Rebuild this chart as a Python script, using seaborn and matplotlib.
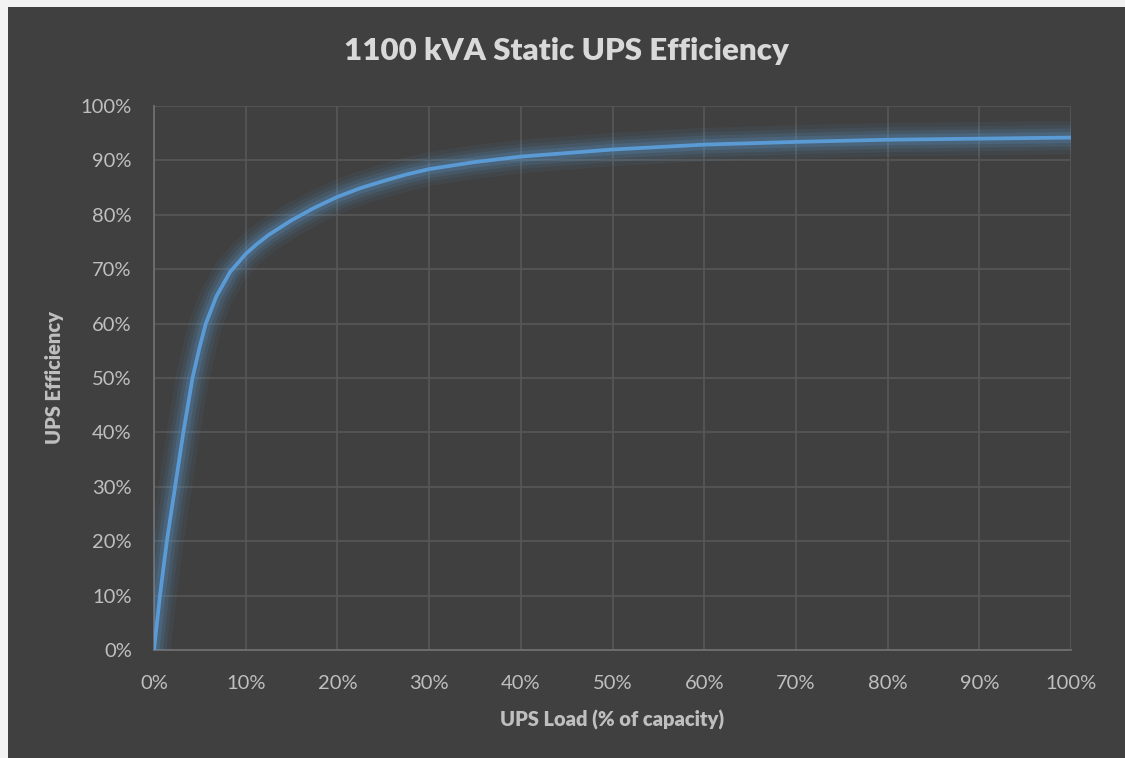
import matplotlib
matplotlib.use("Agg")
import matplotlib.pyplot as plt
import matplotlib.patheffects as pe
from matplotlib.patches import Rectangle
from matplotlib.ticker import FuncFormatter, MultipleLocator
import seaborn as sns
import pandas as pd

# UPS load (% of capacity) and efficiency (%)
load_pct = [0, 0.65, 1.4, 2.3, 3.2, 4.2, 4.95, 5.65, 6.8, 8.3, 10, 11.2, 12.5, 15, 17.5, 20,
            22.5, 25, 27.5, 30, 35, 40, 50, 60, 70, 80, 90, 100]
efficiency_pct = [0, 10, 20, 30, 40, 50, 55.5, 60, 65, 69.5, 72.8, 74.6, 76.3, 79.0, 81.3, 83.3,
                  84.9, 86.2, 87.4, 88.4, 89.7, 90.7, 92.0, 92.9, 93.4, 93.8, 94.0, 94.2]

title = "1100 kVA Static UPS Efficiency"
x_label = "UPS Load (% of capacity)"
y_label = "UPS Efficiency"

bg = "#404040"
line_color = "#5B9BD5"
tick_color = "#bfbfbf"
grid_color = "#575757"

sns.set_theme(style="dark")
plt.rcParams["font.family"] = ["Lato", "DejaVu Sans"]

df = pd.DataFrame({"load": load_pct, "eff": efficiency_pct})

fig = plt.figure(figsize=(11.25, 7.58), dpi=100, facecolor="#f2f2f2")
fig.patches.append(Rectangle((8 / 1125, 0), 1 - 8 / 1125, 1 - 7 / 758, transform=fig.transFigure,
                             facecolor=bg, edgecolor="none", zorder=-10))
ax = fig.add_axes([154 / 1125, 108 / 758, 917 / 1125, 544 / 758])
ax.set_facecolor(bg)

sns.lineplot(data=df, x="load", y="eff", ax=ax, color=line_color, linewidth=2.7, zorder=3)
line = ax.lines[0]
line.set_solid_joinstyle("round")
# soft glow around the series, like the original chart
line.set_path_effects([
    pe.Stroke(linewidth=24, foreground=line_color, alpha=0.07, joinstyle="round"),
    pe.Stroke(linewidth=18, foreground=line_color, alpha=0.09, joinstyle="round"),
    pe.Stroke(linewidth=13, foreground=line_color, alpha=0.13, joinstyle="round"),
    pe.Stroke(linewidth=8, foreground=line_color, alpha=0.2, joinstyle="round"),
    pe.Normal(),
])

ax.set_xlim(0, 100)
ax.set_ylim(0, 100)
ax.xaxis.set_major_locator(MultipleLocator(10))
ax.yaxis.set_major_locator(MultipleLocator(10))
pct = FuncFormatter(lambda v, p: f"{v:.0f}%")
ax.xaxis.set_major_formatter(pct)
ax.yaxis.set_major_formatter(pct)

ax.grid(True, color=grid_color, linewidth=1.2)
ax.set_axisbelow(True)
for side in ["top", "right"]:
    ax.spines[side].set_visible(False)
for side in ["left", "bottom"]:
    ax.spines[side].set_visible(True)
    ax.spines[side].set_color("#6f6f6f")
    ax.spines[side].set_linewidth(1.3)

ax.tick_params(axis="both", length=0, labelsize=14.5, colors=tick_color)
ax.tick_params(axis="x", pad=18)
ax.tick_params(axis="y", pad=16)

ax.set_xlabel(x_label, fontsize=14.5, fontweight="heavy", color=tick_color, labelpad=13)
ax.set_ylabel(y_label, fontsize=14.5, fontweight="heavy", color=tick_color, labelpad=12)

fig.text(566 / 1125, 1 - 51 / 758, title, ha="center", va="center", fontsize=22.5,
         fontweight="heavy", color="#d9d9d9")

fig.savefig("out.png", dpi=100, facecolor=fig.get_facecolor())
